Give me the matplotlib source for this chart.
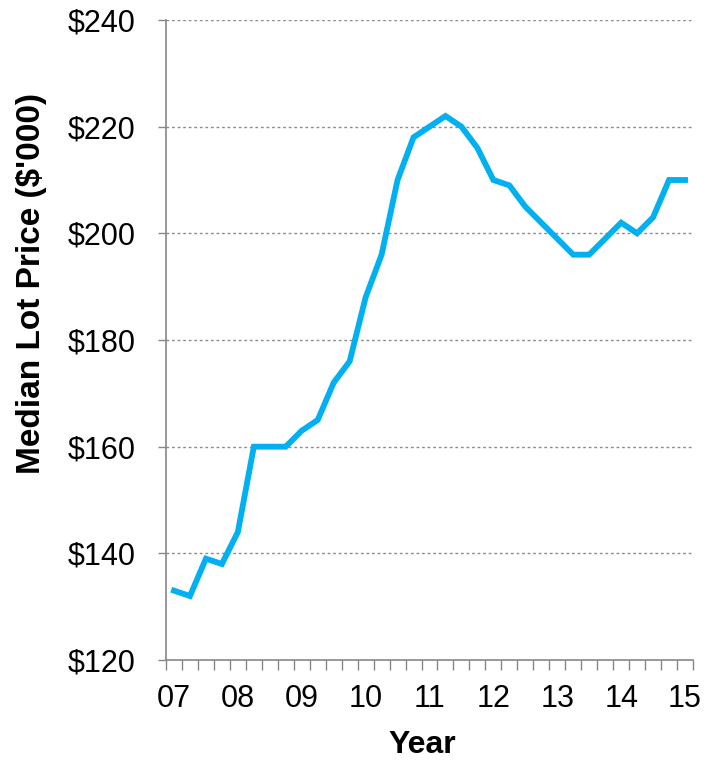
import matplotlib.pyplot as plt
import numpy as np

plt.rcParams['font.family'] = ['Liberation Sans', 'DejaVu Sans']

# quarterly median lot price, 2007 Q1 .. 2015 Q1
prices = [133, 132, 139, 138, 144, 160, 160, 160, 163, 165, 172, 176,
          188, 196, 210, 218, 220, 222, 220, 216, 210, 209, 205, 202,
          199, 196, 196, 199, 202, 200, 203, 210, 210]
year_labels = ['07', '08', '09', '10', '11', '12', '13', '14', '15']
y_ticks = [120, 140, 160, 180, 200, 220, 240]

x = np.arange(len(prices))

fig = plt.figure(figsize=(7.07, 7.6), dpi=100)
ax = fig.add_axes([166 / 707, 1 - 660 / 760, 527 / 707, 640 / 760])

ax.plot(x, prices, color='#00B0F0', linewidth=4.2, solid_joinstyle='miter')

ax.set_xlim(-0.5, len(prices) - 0.5)
ax.set_ylim(120, 240)

# y axis
ax.set_yticks(y_ticks)
ax.set_yticklabels(['$' + str(v) for v in y_ticks])
for v in y_ticks[1:]:
    ax.axhline(v, color='#8c8c8c', linewidth=1, linestyle=(0, (2, 2)), zorder=0)
ax.tick_params(axis='y', direction='out', length=6, width=1, color='#868686',
               labelsize=22, pad=16)

# x axis: labels every 4 quarters, minor ticks between categories
ax.set_xticks(x[::4])
ax.set_xticklabels(year_labels)
ax.set_xticks(np.arange(-0.5, len(prices)), minor=True)
ax.tick_params(axis='x', which='major', length=0, labelsize=22, pad=17)
ax.tick_params(axis='x', which='minor', direction='out', length=7, width=1,
               color='#868686')

for side in ['top', 'right']:
    ax.spines[side].set_visible(False)
for side in ['left', 'bottom']:
    ax.spines[side].set_color('#868686')
    ax.spines[side].set_linewidth(1.2)

ax.set_xlabel('Year', fontsize=23, fontweight='bold', va='center')
ax.xaxis.set_label_coords(0.486, -0.133)
ax.set_ylabel("Median Lot Price ($'000)", fontsize=24, fontweight='bold', va='center')
ax.yaxis.set_label_coords(-0.256, 0.589)

fig.savefig('out.png', dpi=100)
